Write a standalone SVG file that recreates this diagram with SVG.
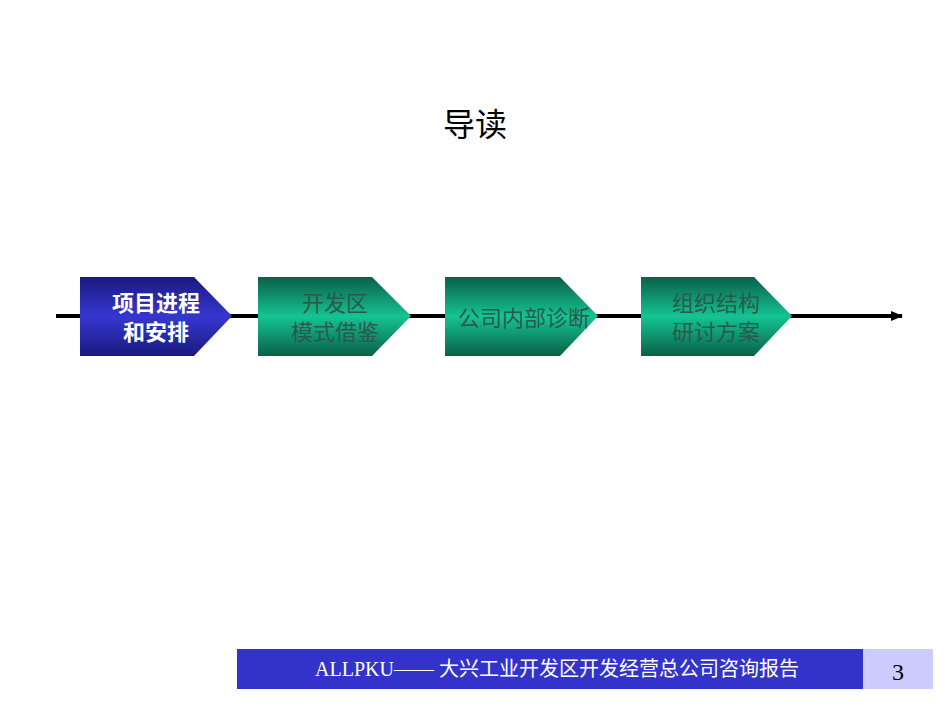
<svg xmlns="http://www.w3.org/2000/svg" width="950" height="713" viewBox="0 0 950 713">
<style>
.t{font-family:"Liberation Sans","Noto Sans CJK SC",sans-serif;font-size:22px;text-anchor:middle}
.g{fill:#2a5a4a}
.w{fill:#fff;font-weight:bold}
.f{font-family:"Liberation Serif","Noto Sans CJK SC",serif;font-size:20px;text-anchor:middle}
</style>
<defs>
<linearGradient id="gb" x1="0" y1="0" x2="0" y2="1"><stop offset="0" stop-color="#1a1a80"/><stop offset="0.5" stop-color="#3636d0"/><stop offset="1" stop-color="#1a1a80"/></linearGradient>
<linearGradient id="gg" x1="0" y1="0" x2="0" y2="1"><stop offset="0" stop-color="#0a6048"/><stop offset="0.5" stop-color="#14c493"/><stop offset="1" stop-color="#0a6048"/></linearGradient>
<marker id="ar" markerWidth="12" markerHeight="10" refX="11" refY="5" orient="auto" markerUnits="userSpaceOnUse"><path d="M0,0 L12,5 L0,10 z" fill="#000"/></marker>
</defs>
<rect width="950" height="713" fill="#fff"/>
<text x="475" y="136" class="t" style="font-size:32px">导读</text>
<g id="connectors"><line x1="56" y1="316" x2="902" y2="316" stroke="#000" stroke-width="4" marker-end="url(#ar)"/></g>
<g id="n1"><path d="M80,277 H194 L232,316 L194,356 H80 Z" fill="url(#gb)"/><text x="156" y="311" class="t w">项目进程</text><text x="156" y="340" class="t w">和安排</text></g>
<g id="n2"><path d="M258,277 H372 L411,316 L372,356 H258 Z" fill="url(#gg)"/><text x="335" y="311" class="t g">开发区</text><text x="335" y="340" class="t g">模式借鉴</text></g>
<g id="n3"><path d="M445,277 H560 L598,316 L560,356 H445 Z" fill="url(#gg)"/><text x="524" y="326" class="t g">公司内部诊断</text></g>
<g id="n4"><path d="M641,277 H754 L792,316 L754,356 H641 Z" fill="url(#gg)"/><text x="716" y="311" class="t g">组织结构</text><text x="716" y="340" class="t g">研讨方案</text></g>
<g id="footer"><rect x="237" y="649" width="626" height="40" fill="#3333cc"/><text x="557" y="676" class="f" fill="#fff">ALLPKU—— 大兴工业开发区开发经营总公司咨询报告</text>
<rect x="863" y="649" width="70" height="40" fill="#ccccff"/><text x="898" y="680" class="f" style="font-size:24px" fill="#000">3</text></g>
</svg>
